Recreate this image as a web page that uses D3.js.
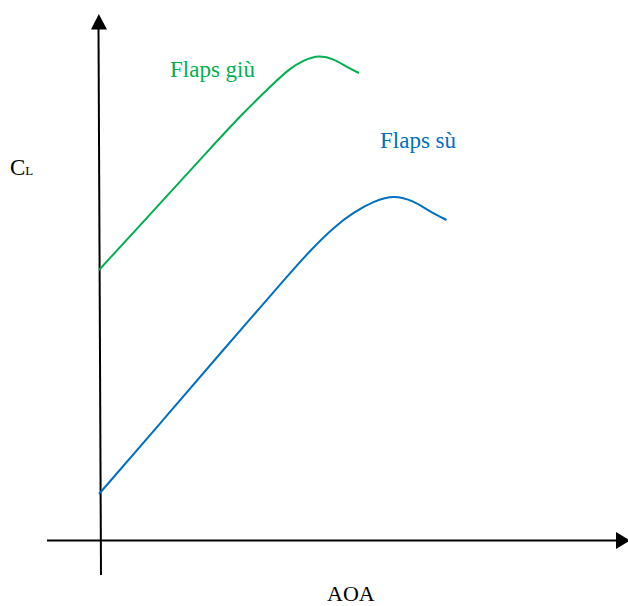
<!DOCTYPE html>
<html>
<head>
<meta charset="utf-8">
<script src="https://cdn.jsdelivr.net/npm/d3@7"></script>
<style>
  html, body { margin: 0; padding: 0; background: #fff; }
  svg { display: block; }
</style>
</head>
<body>
<div id="chart"></div>
<script>
// ---- data (schematic CL vs AOA) ----
const seriesNames = ["Flaps giù", "Flaps sù"];
const greenAOA = [0, 2.5, 4.5, 5.8, 7.0, 7.6, 8.2, 8.8, 9.4, 9.9, 10.4];
const greenCL  = [1.35, 1.69, 1.965, 2.14, 2.285, 2.355, 2.40, 2.425, 2.405, 2.365, 2.335];
const blueAOA  = [0, 2.5, 5.0, 6.5, 7.4, 8.5, 9.4, 10.2, 11.0, 11.8, 12.6, 13.2, 13.9];
const blueCL   = [0.23, 0.59, 0.955, 1.17, 1.30, 1.455, 1.565, 1.64, 1.695, 1.725, 1.695, 1.645, 1.60];
const xTitle = "AOA";
const yTitleMain = "C";
const yTitleSub = "L";

const W = 628, H = 606;
const svg = d3.select("#chart").append("svg").attr("width", W).attr("height", H);

const x = d3.scaleLinear().domain([0, 20]).range([99, 599]);
const y = d3.scaleLinear().domain([0, 2.5]).range([540, 40]);

const font = "'Liberation Serif', 'Times New Roman', serif";

// axes
svg.append("line").attr("x1", 47).attr("y1", 540.5).attr("x2", 617).attr("y2", 540.5)
  .attr("stroke", "#000").attr("stroke-width", 2);
svg.append("path").attr("d", "M616,532L630,540.5L616,549Z").attr("fill", "#000");

svg.append("line").attr("x1", 98.5).attr("y1", 28).attr("x2", 101).attr("y2", 575)
  .attr("stroke", "#000").attr("stroke-width", 2);
svg.append("path").attr("d", "M91,29.5L98.8,14L107,29.5Z").attr("fill", "#000");

const line = d3.line()
  .x(d => x(d[0]))
  .y(d => y(d[1]))
  .curve(d3.curveBasis);

const series = [
  { name: seriesNames[0], pts: d3.zip(greenAOA, greenCL), color: "#00B050", lx: 170, ly: 77 },
  { name: seriesNames[1], pts: d3.zip(blueAOA, blueCL), color: "#0070C0", lx: 380, ly: 147.5 }
];

series.forEach(s => {
  svg.append("path").attr("d", line(s.pts))
    .attr("fill", "none").attr("stroke", s.color).attr("stroke-width", 2);
  svg.append("text").attr("x", s.lx).attr("y", s.ly)
    .attr("font-family", font).attr("font-size", 23).attr("fill", s.color)
    .text(s.name);
});

// axis titles
svg.append("text").attr("x", 327).attr("y", 601)
  .attr("font-family", font).attr("font-size", 22).attr("fill", "#000").text(xTitle);

const yt = svg.append("text").attr("x", 10).attr("y", 175)
  .attr("font-family", font).attr("font-size", 23).attr("fill", "#000");
yt.append("tspan").text(yTitleMain);
yt.append("tspan").attr("font-size", 13).text(yTitleSub);
</script>
</body>
</html>
